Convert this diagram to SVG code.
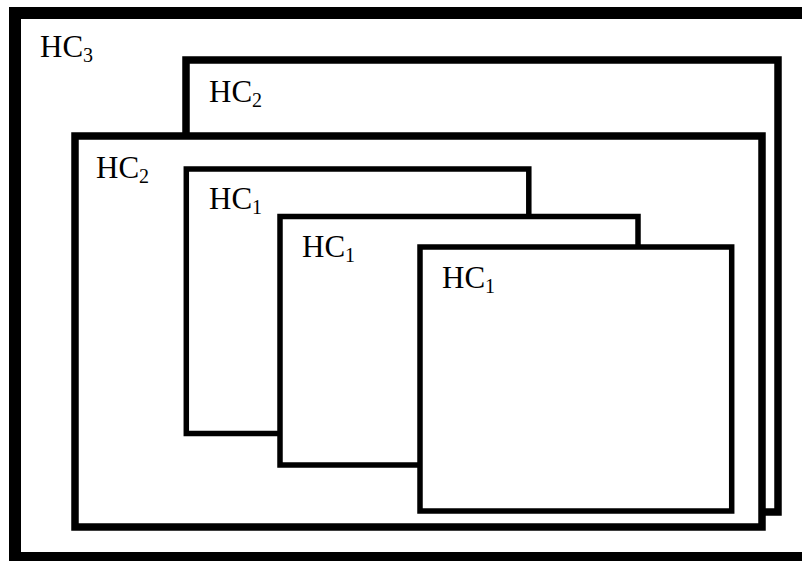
<svg xmlns="http://www.w3.org/2000/svg" width="802" height="561" viewBox="0 0 802 561">
<style>
.box{fill:#fff;stroke:#000}
.lbl{font-family:"Liberation Serif","Times New Roman",serif;font-size:31px;fill:#000}
.sub{font-size:20px}
</style>
<rect width="802" height="561" fill="#fff"/>
<g id="hc3">
<rect class="box" x="15" y="13" width="800" height="545" stroke-width="12"/>
<text class="lbl" x="40" y="57">HC<tspan class="sub" dy="5">3</tspan></text>
</g>
<g id="hc2-back">
<rect class="box" x="186" y="60" width="592" height="452" stroke-width="7.5"/>
<text class="lbl" x="209" y="102">HC<tspan class="sub" dy="5">2</tspan></text>
</g>
<g id="hc2-front">
<rect class="box" x="75" y="136" width="687" height="391" stroke-width="7.5"/>
<text class="lbl" x="96" y="178">HC<tspan class="sub" dy="5">2</tspan></text>
</g>
<g id="hc1-a">
<rect class="box" x="186.3" y="169" width="342.5" height="264.5" stroke-width="5.5"/>
<text class="lbl" x="209" y="209">HC<tspan class="sub" dy="5">1</tspan></text>
</g>
<g id="hc1-b">
<rect class="box" x="280" y="216.5" width="358" height="248.5" stroke-width="5.5"/>
<text class="lbl" x="302" y="257">HC<tspan class="sub" dy="5">1</tspan></text>
</g>
<g id="hc1-c">
<rect class="box" x="420" y="247" width="311.7" height="264" stroke-width="5.5"/>
<text class="lbl" x="442" y="288">HC<tspan class="sub" dy="5">1</tspan></text>
</g>
<g id="connectors"/>
</svg>
